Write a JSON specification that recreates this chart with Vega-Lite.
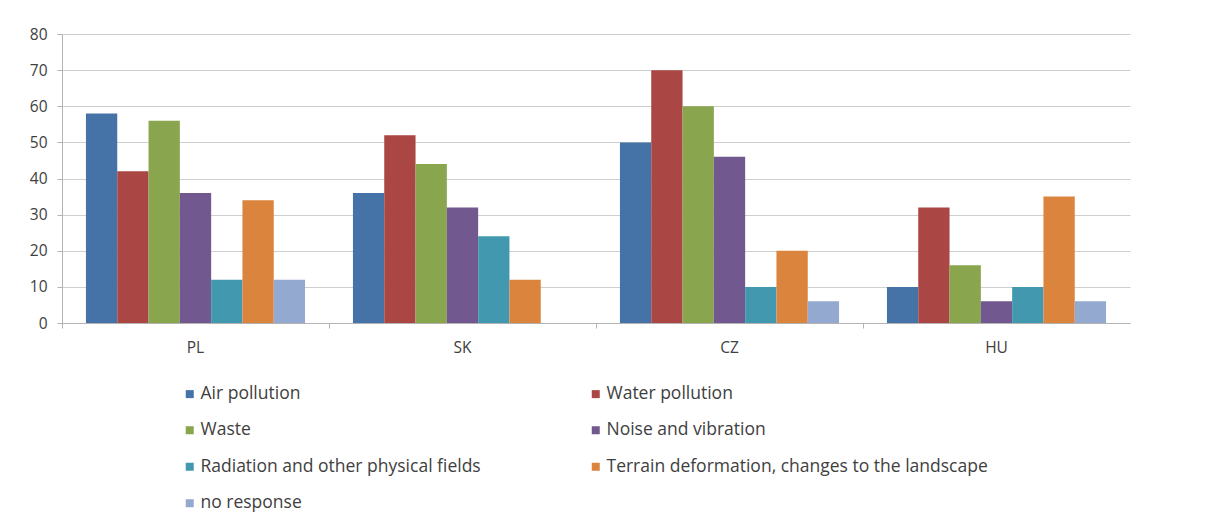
{
  "$schema": "https://vega.github.io/schema/vega-lite/v6.json",
  "width": 1068,
  "height": 289,
  "autosize": "none",
  "padding": {"left": 62, "top": 34, "right": 81, "bottom": 197},
  "background": "white",
  "config": {
    "font": "Open Sans",
    "view": {"stroke": null},
    "axis": {
      "labelFont": "Open Sans",
      "labelFontSize": 15.5,
      "labelColor": "#404040",
      "domainColor": "#b3b3b3",
      "tickColor": "#b3b3b3",
      "gridColor": "#cfcfcf",
      "title": null
    }
  },
  "data": {
    "values": [
      {"country": "PL", "issue": "Air pollution", "share": 58},
      {"country": "PL", "issue": "Water pollution", "share": 42},
      {"country": "PL", "issue": "Waste", "share": 56},
      {"country": "PL", "issue": "Noise and vibration", "share": 36},
      {"country": "PL", "issue": "Radiation and other physical fields", "share": 12},
      {"country": "PL", "issue": "Terrain deformation, changes to the landscape", "share": 34},
      {"country": "PL", "issue": "no response", "share": 12},
      {"country": "SK", "issue": "Air pollution", "share": 36},
      {"country": "SK", "issue": "Water pollution", "share": 52},
      {"country": "SK", "issue": "Waste", "share": 44},
      {"country": "SK", "issue": "Noise and vibration", "share": 32},
      {"country": "SK", "issue": "Radiation and other physical fields", "share": 24},
      {"country": "SK", "issue": "Terrain deformation, changes to the landscape", "share": 12},
      {"country": "CZ", "issue": "Air pollution", "share": 50},
      {"country": "CZ", "issue": "Water pollution", "share": 70},
      {"country": "CZ", "issue": "Waste", "share": 60},
      {"country": "CZ", "issue": "Noise and vibration", "share": 46},
      {"country": "CZ", "issue": "Radiation and other physical fields", "share": 10},
      {"country": "CZ", "issue": "Terrain deformation, changes to the landscape", "share": 20},
      {"country": "CZ", "issue": "no response", "share": 6},
      {"country": "HU", "issue": "Air pollution", "share": 10},
      {"country": "HU", "issue": "Water pollution", "share": 32},
      {"country": "HU", "issue": "Waste", "share": 16},
      {"country": "HU", "issue": "Noise and vibration", "share": 6},
      {"country": "HU", "issue": "Radiation and other physical fields", "share": 10},
      {"country": "HU", "issue": "Terrain deformation, changes to the landscape", "share": 35},
      {"country": "HU", "issue": "no response", "share": 6}
    ]
  },
  "layer": [
    {
      "mark": {"type": "bar"},
      "encoding": {
        "x": {
          "field": "country",
          "type": "nominal",
          "sort": ["PL", "SK", "CZ", "HU"],
          "scale": {"paddingInner": 0, "paddingOuter": 0},
          "axis": {"orient": "bottom", "labelAngle": 0, "ticks": false, "labelPadding": 17, "domain": true}
        },
        "xOffset": {
          "field": "issue",
          "type": "nominal",
          "scale": {
            "domain": ["Air pollution", "Water pollution", "Waste", "Noise and vibration", "Radiation and other physical fields", "Terrain deformation, changes to the landscape", "no response"],
            "paddingInner": 0,
            "paddingOuter": 0.765
          }
        },
        "y": {
          "field": "share",
          "type": "quantitative",
          "scale": {"domain": [0, 80], "nice": false},
          "axis": {"values": [0, 10, 20, 30, 40, 50, 60, 70, 80], "grid": true, "domain": true, "ticks": true, "tickSize": 5, "labelPadding": 10, "labelOverlap": false}
        },
        "color": {
          "field": "issue",
          "type": "nominal",
          "scale": {
            "domain": ["Air pollution", "Waste", "Radiation and other physical fields", "no response", "Water pollution", "Noise and vibration", "Terrain deformation, changes to the landscape"],
            "range": ["#4572A7", "#89A54E", "#4198AF", "#93A9CF", "#AA4643", "#71588F", "#DB843D"]
          },
          "legend": {
            "title": null,
            "orient": "none",
            "legendX": 119,
            "legendY": 351,
            "columns": 2,
            "columnPadding": 106,
            "rowPadding": 17.5,
            "padding": 0,
            "symbolType": "square",
            "symbolSize": 64,
            "symbolStrokeWidth": 0,
            "labelFont": "Open Sans",
            "labelFontSize": 17.5,
            "labelColor": "#404040",
            "labelOffset": 2,
            "labelLimit": 600
          }
        }
      }
    },
    {
      "mark": {"type": "bar", "opacity": 0},
      "encoding": {
        "x": {
          "field": "country",
          "type": "nominal",
          "sort": ["PL", "SK", "CZ", "HU"],
          "scale": {"paddingInner": 0, "paddingOuter": 0},
          "axis": {"orient": "bottom", "labels": false, "domain": false, "ticks": true, "tickSize": 5, "bandPosition": 0}
        }
      }
    }
  ],
  "resolve": {"axis": {"x": "independent"}}
}
